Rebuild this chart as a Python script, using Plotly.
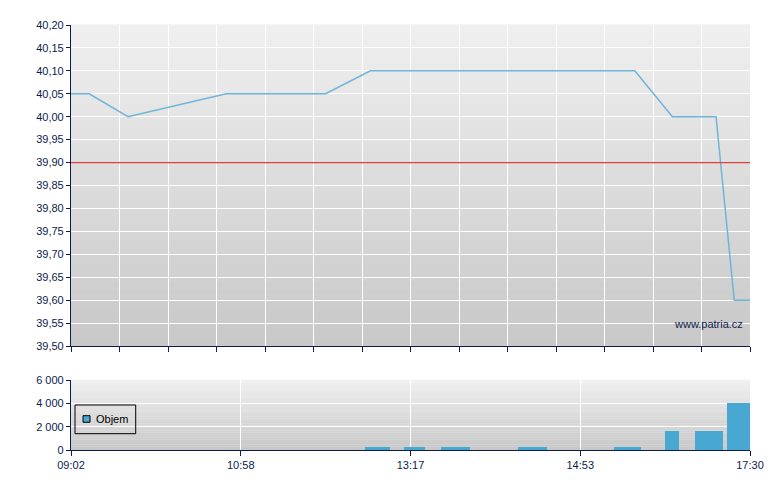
import plotly.graph_objects as go

# ---- data ----
tick_labels = ["09:02", "10:58", "13:17", "14:53", "17:30"]
tick_pos = [0, 14, 28, 42, 56]

price_x = [0, 1.5, 4.7, 12.8, 21.0, 24.7, 46.5, 49.6, 53.2, 54.7, 56]
price_y = [40.05, 40.05, 40.00, 40.05, 40.05, 40.10, 40.10, 40.00, 40.00, 39.60, 39.60]

ref_price = 39.90

vol_x = [25.27, 28.34, 31.72, 38.07, 45.89, 49.57, 52.6, 55.05]
vol_w = [2.06, 1.76, 2.36, 2.39, 2.22, 1.14, 2.3, 1.9]
vol_y = [280, 280, 280, 280, 280, 1600, 1600, 4000]
vol_name = "Objem"

navy = "#0c1c4c"
bar_color = "#48a8d2"
font = dict(family="Liberation Sans, Arial, sans-serif", size=11, color=navy)

fig = go.Figure()

fig.add_trace(go.Scatter(x=price_x, y=price_y, mode="lines",
                         line=dict(color="#6fb5d8", width=1.5),
                         showlegend=False, xaxis="x", yaxis="y"))
fig.add_trace(go.Scatter(x=[0, 56], y=[ref_price, ref_price], mode="lines",
                         line=dict(color="#e0403a", width=1.2),
                         showlegend=False, xaxis="x", yaxis="y"))
fig.add_trace(go.Bar(x=vol_x, y=vol_y, width=vol_w, name=vol_name,
                     marker=dict(color=bar_color, line=dict(width=0)),
                     xaxis="x2", yaxis="y2", showlegend=False))

# gradient backgrounds
shapes = []
n = 40
for ax_x, ax_y in (("x", "y"), ("x2", "y2")):
    for i in range(n):
        t = i / (n - 1)
        c = int(240 - 40 * t)
        shapes.append(dict(type="rect", xref=f"{ax_x} domain", yref=f"{ax_y} domain",
                           x0=0, x1=1, y0=1 - (i + 1) / n, y1=1 - i / n + 0.002,
                           fillcolor=f"rgb({c},{c},{c})", line=dict(width=0),
                           layer="below"))

# legend box (drawn manually to match the compact original)
shapes.append(dict(type="rect", xref="paper", yref="paper",
                   x0=0.0059, x1=0.0953, y0=0.0384, y1=0.1059,
                   line=dict(color="#000000", width=1), fillcolor="rgba(0,0,0,0)",
                   layer="above"))
shapes.append(dict(type="rect", xref="paper", yref="paper",
                   x0=0.0177, x1=0.0280, y0=0.0652, y1=0.0807,
                   line=dict(color="#000000", width=1), fillcolor=bar_color,
                   layer="above"))

fig.update_layout(
    width=780, height=490,
    margin=dict(l=63, r=38, t=17, b=48),
    paper_bgcolor="white", plot_bgcolor="rgba(0,0,0,0)",
    separators=", ",
    font=font,
    shapes=shapes,
    bargap=0,
    showlegend=False,
    xaxis=dict(domain=[0, 1], range=[0, 56], tick0=0, dtick=4, showticklabels=False,
               showgrid=True, gridcolor="white", gridwidth=1.2,
               ticks="outside", ticklen=5, tickcolor=navy,
               showline=True, linecolor=navy, linewidth=1.2, zeroline=False,
               anchor="y"),
    yaxis=dict(domain=[0.2447, 1], range=[39.5, 40.2], tick0=39.5, dtick=0.05,
               tickformat=".2f", showgrid=True, gridcolor="white", gridwidth=1.2,
               ticks="outside", ticklen=4, tickcolor=navy,
               showline=True, linecolor=navy, linewidth=1.2, zeroline=False,
               anchor="x"),
    xaxis2=dict(domain=[0, 1], range=[0, 56], tickvals=tick_pos, ticktext=tick_labels,
                showgrid=True, gridcolor="white", gridwidth=1.2,
                ticks="outside", ticklen=5, tickcolor=navy,
                showline=True, linecolor=navy, linewidth=1.2, zeroline=False,
                anchor="y2"),
    yaxis2=dict(domain=[0, 0.1647], range=[0, 6000], tickvals=[0, 2000, 4000, 6000],
                tickformat=",.0f", showgrid=True, gridcolor="white", gridwidth=1.2,
                ticks="outside", ticklen=4, tickcolor=navy,
                showline=True, linecolor=navy, linewidth=1.2, zeroline=False,
                anchor="x2"),
    annotations=[
        dict(text="www.patria.cz", xref="x domain", yref="y domain",
             x=0.993, y=0.07, xanchor="right", yanchor="middle",
             showarrow=False, font=dict(family="Liberation Sans, Arial, sans-serif",
                                        size=11, color=navy)),
        dict(text=vol_name, xref="paper", yref="paper",
             x=0.0338, y=0.073, xanchor="left", yanchor="middle",
             showarrow=False, font=dict(family="Liberation Sans, Arial, sans-serif",
                                        size=11, color="#000000")),
    ],
)

fig.write_html("out.html")
